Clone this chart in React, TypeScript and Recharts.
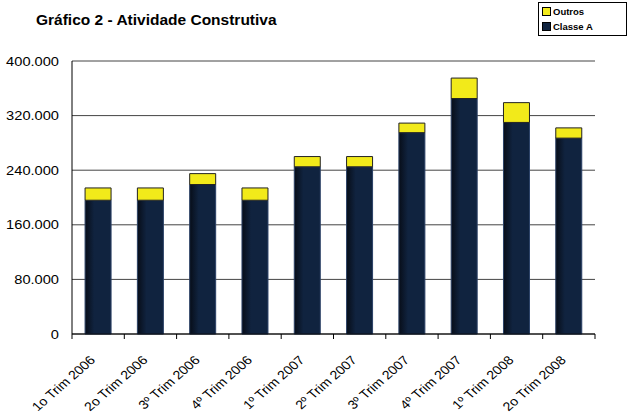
import { BarChart, Bar, XAxis, YAxis, CartesianGrid } from "recharts";

const quarters = [
  "1o Trim 2006",
  "2o Trim 2006",
  "3º Trim 2006",
  "4º Trim 2006",
  "1º Trim 2007",
  "2º Trim 2007",
  "3º Trim 2007",
  "4º Trim 2007",
  "1º Trim 2008",
  "2o Trim 2008",
];
const classeA = [196000, 196000, 219000, 196000, 245000, 245000, 295000, 345000, 310000, 287000];
const outros = [18000, 18000, 16000, 18000, 15000, 15000, 14000, 30000, 29000, 15000];
const yTicks = [0, 80000, 160000, 240000, 320000, 400000];

const data = quarters.map((q, i) => ({ q, "Classe A": classeA[i], Outros: outros[i] }));

const FONT = "'Liberation Sans', Arial, sans-serif";
const CAT_W = 523 / quarters.length;

function fmt(v: number) {
  return v.toLocaleString("de-DE");
}

// eslint-disable-next-line @typescript-eslint/no-explicit-any
function XTick({ x, y, payload }: any) {
  const half = CAT_W / 2;
  const bx = x - 2;
  const by = y + 19;
  return (
    <g>
      <line x1={x - half} y1={y - 8} x2={x - half} y2={y - 3} stroke="#000" />
      {payload.index === quarters.length - 1 && (
        <line x1={x + half} y1={y - 8} x2={x + half} y2={y - 3} stroke="#000" />
      )}
      <text
        x={0}
        y={0}
        textAnchor="end"
        transform={`translate(${bx} ${by}) scale(1.15 1) rotate(-45)`}
        fontSize={12.3}
        fontFamily={FONT}
        fill="#000"
      >
        {payload.value}
      </text>
    </g>
  );
}

// eslint-disable-next-line @typescript-eslint/no-explicit-any
function YTick({ x, y, payload }: any) {
  const ax = x - 5;
  return (
    <text
      x={0}
      y={0}
      dy={4.5}
      textAnchor="end"
      transform={`translate(${ax} ${y}) scale(1.22 1)`}
      fontSize={12}
      fontFamily={FONT}
      fill="#000"
    >
      {fmt(payload.value)}
    </text>
  );
}

function LegendBox() {
  const items = [
    { name: "Outros", color: "#f2ea1a" },
    { name: "Classe A", color: "#10233f" },
  ];
  return (
    <div
      style={{
        position: "absolute",
        left: 538,
        top: 2,
        border: "1px solid #000",
        padding: "1px 3px 1px 3px",
        background: "#fff",
        fontFamily: FONT,
        fontSize: 9.5,
        fontWeight: "bold",
        lineHeight: "15px",
        width: 81,
      }}
    >
      {items.map((it) => (
        <div key={it.name} style={{ display: "flex", alignItems: "center", gap: 2 }}>
          <span
            style={{
              display: "inline-block",
              width: 7,
              height: 7,
              background: it.color,
              border: "1px solid #000",
            }}
          />
          <span>{it.name}</span>
        </div>
      ))}
    </div>
  );
}

export default function App() {
  return (
    <div style={{ position: "absolute", left: 0, top: 0, width: 628, height: 416, background: "#fff" }}>
      <div
        style={{
          position: "absolute",
          left: 36,
          top: 11,
          fontFamily: FONT,
          fontWeight: "bold",
          fontSize: 15.5,
          color: "#000",
          zIndex: 1,
        }}
      >
        Gráfico 2 - Atividade Construtiva
      </div>
      <BarChart
        width={628}
        height={416}
        data={data}
        margin={{ top: 61, right: 33, bottom: 2, left: 6 }}
        barCategoryGap="25%"
      >
        <defs>
          <linearGradient id="navy" x1="0" y1="0" x2="1" y2="0">
            <stop offset="0%" stopColor="#070d18" />
            <stop offset="35%" stopColor="#10233f" />
            <stop offset="100%" stopColor="#10233f" />
          </linearGradient>
        </defs>
        <CartesianGrid vertical={false} stroke="#444" strokeWidth={1} />
        <XAxis
          dataKey="q"
          interval={0}
          height={80}
          tickLine={false}
          axisLine={{ stroke: "#000" }}
          tick={<XTick />}
        />
        <YAxis
          width={66}
          domain={[0, 400000]}
          ticks={yTicks}
          axisLine={{ stroke: "#000" }}
          tickLine={false}
          tick={<YTick />}
        />
        <YAxis
          yAxisId="r"
          orientation="right"
          width={0}
          domain={[0, 400000]}
          tick={false}
          tickLine={false}
          axisLine={{ stroke: "#444" }}
        />
        <Bar
          dataKey="Classe A"
          stackId="a"
          fill="url(#navy)"
          stroke="#2b4166"
          strokeWidth={1}
          isAnimationActive={false}
        />
        <Bar
          dataKey="Outros"
          stackId="a"
          fill="#f2ea1a"
          stroke="#222"
          strokeWidth={1}
          isAnimationActive={false}
        />
      </BarChart>
      <LegendBox />
    </div>
  );
}
